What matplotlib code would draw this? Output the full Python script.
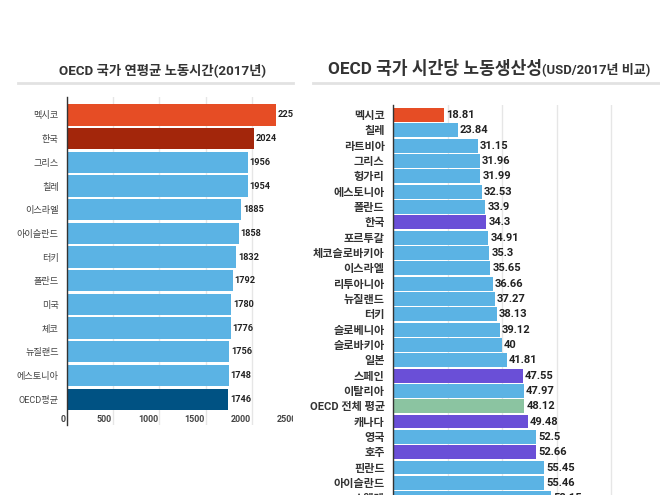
import matplotlib
matplotlib.use("Agg")
import matplotlib.pyplot as plt
from matplotlib.lines import Line2D
from matplotlib.patches import Rectangle
from matplotlib.transforms import ScaledTranslation

plt.rcParams["font.family"] = ["Roboto", "Noto Sans CJK KR", "DejaVu Sans"]

# ── data ────────────────────────────────────────────────────────────────
hours_countries = ["멕시코", "한국", "그리스", "칠레", "이스라엘", "아이슬란드", "터키",
                   "폴란드", "미국", "체코", "뉴질랜드", "에스토니아", "OECD평균"]
hours_values = [2257, 2024, 1956, 1954, 1885, 1858, 1832, 1792, 1780, 1776, 1756, 1748, 1746]
hours_ticks = [0, 500, 1000, 1500, 2000, 2500]

prod_countries = ["멕시코", "칠레", "라트비아", "그리스", "헝가리", "에스토니아", "폴란드",
                  "한국", "포르투갈", "체코슬로바키아", "이스라엘", "리투아니아", "뉴질랜드",
                  "터키", "슬로베니아", "슬로바키아", "일본", "스페인", "이탈리아",
                  "OECD 전체 평균", "캐나다", "영국", "호주", "핀란드", "아이슬란드", "스웨덴"]
prod_values = [18.81, 23.84, 31.15, 31.96, 31.99, 32.53, 33.9, 34.3, 34.91, 35.3, 35.65,
               36.66, 37.27, 38.13, 39.12, 40, 41.81, 47.55, 47.97, 48.12, 49.48, 52.5,
               52.66, 55.45, 55.46, 58.15]
prod_ticks = [0, 20, 40, 60, 80, 100]

# ── styles ──────────────────────────────────────────────────────────────
BLUE = "#5BB3E4"
hours_colors = {"멕시코": "#E64D25", "한국": "#A3260B", "OECD평균": "#005283"}
prod_colors = {"멕시코": "#E64D25", "한국": "#6A4FD7", "스페인": "#6A4FD7",
               "캐나다": "#6A4FD7", "호주": "#6A4FD7", "OECD 전체 평균": "#8BC4A1"}

W, H = 660, 495
fig = plt.figure(figsize=(W / 100, H / 100), dpi=100)


def px_axes(left, top, right, bottom):
    return fig.add_axes([left / W, 1 - bottom / H, (right - left) / W, (bottom - top) / H])


def style_axes(ax):
    for s in ["top", "right", "bottom"]:
        ax.spines[s].set_visible(False)
    ax.spines["left"].set_color("#333333")
    ax.spines["left"].set_linewidth(1.0)
    ax.set_axisbelow(True)
    ax.grid(axis="x", color="#e6e6e6", lw=1)
    ax.tick_params(axis="y", length=0)


# ── left: annual working hours ─────────────────────────────────────────
ax1 = px_axes(67, 97, 298, 425)
pos1 = list(range(len(hours_countries)))
ax1.barh(pos1, hours_values, height=0.89,
         color=[hours_colors.get(c, BLUE) for c in hours_countries])
ax1.set_ylim((425 - 115) / 23.67, -(115 - 97) / 23.67)
ax1.set_xlim(0, 2500)
ax1.set_yticks(pos1, hours_countries)
style_axes(ax1)
ax1.tick_params(axis="y", pad=6, labelsize=6.6, labelcolor="#444444")
ax1.set_xticks(hours_ticks, [str(t) for t in hours_ticks])
ax1.tick_params(axis="x", length=0, pad=-7.5, labelsize=6.4, labelcolor="#444444")
for t in ax1.xaxis.get_major_ticks():
    t.label1.set_horizontalalignment("right")
    t.label1.set_fontweight("bold")
    t.label1.set_transform(t.label1.get_transform()
                           + ScaledTranslation(-1 / 72, 0, fig.dpi_scale_trans))
for p, v in zip(pos1, hours_values):
    ax1.annotate(str(v), (v, p), xytext=(1.2, 0), textcoords="offset points",
                 va="center", ha="left", fontsize=6.6, fontweight="bold", color="#222222")

fig.text(163 / W, 1 - 70 / H, "OECD 국가 연평균 노동시간(2017년)", ha="center", va="center",
         fontsize=9.6, fontweight="bold", color="#333333")
fig.add_artist(Line2D([18 / W, 293 / W], [1 - 83 / H] * 2, color="#e2e2e2", lw=2))
# left chart area is clipped at its right edge
fig.add_artist(Rectangle((293 / W, 1 - 440 / H), 7 / W, 345 / H, transform=fig.transFigure,
                         facecolor="white", edgecolor="none", zorder=10))

# ── right: labour productivity ─────────────────────────────────────────
ax2 = px_axes(393, 105, 665.5, 507)
pos2 = list(range(len(prod_countries)))
ax2.barh(pos2, prod_values, height=0.9,
         color=[prod_colors.get(c, BLUE) for c in prod_countries])
ax2.set_ylim((507 - 115) / 15.33, -(115 - 105) / 15.33)
ax2.set_xlim(0, 100)
ax2.set_yticks(pos2, prod_countries)
ax2.set_xticks(prod_ticks)
style_axes(ax2)
ax2.tick_params(axis="y", pad=6, labelsize=8, labelcolor="#333333")
ax2.tick_params(axis="x", length=0, labelbottom=False)
for lbl in ax2.get_yticklabels():
    lbl.set_fontweight("bold")
for p, v in zip(pos2, prod_values):
    ax2.annotate(f"{v:g}", (v, p), xytext=(1.5, 0), textcoords="offset points",
                 va="center", ha="left", fontsize=8, fontweight="bold", color="#222222")

t1 = fig.text(328 / W, 1 - 68 / H, "OECD 국가 시간당 노동생산성", ha="left", va="center",
              fontsize=12.3, fontweight="bold", color="#333333")
plt.annotate("(USD/2017년 비교)", xy=(1, 0.45), xycoords=t1, ha="left", va="center",
             fontsize=9.4, fontweight="bold", color="#333333")
fig.add_artist(Line2D([313 / W, 1.0], [1 - 83 / H] * 2, color="#e2e2e2", lw=2))

fig.savefig("out.png", dpi=100)
